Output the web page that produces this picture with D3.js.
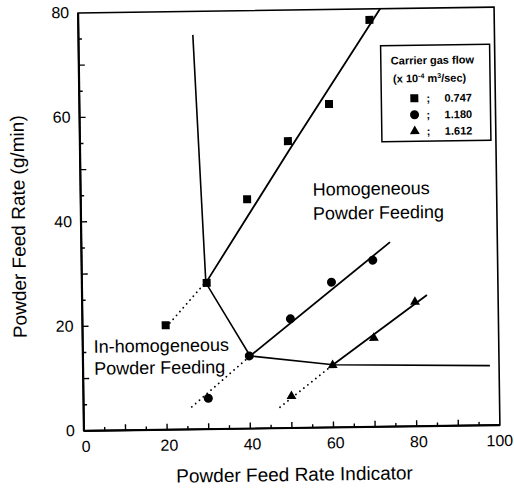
<!DOCTYPE html>
<html>
<head>
<meta charset="utf-8">
<script src="https://cdn.jsdelivr.net/npm/d3@7"></script>
<style>
  html, body { margin: 0; padding: 0; background: #fff; }
  svg { display: block; }
  text { font-family: "Liberation Sans", Arial, sans-serif; fill: #000; }
</style>
</head>
<body>
<svg id="chart" width="514" height="489"></svg>
<script>
// ---- data ----
const xTickLabels = [0, 20, 40, 60, 80, 100];
const yTickLabels = [0, 20, 40, 60, 80];
const xTicks = [5, 10, 15, 20, 25, 30, 35, 40, 45, 50, 55, 60, 65, 70, 75, 80, 85, 90, 95];
const yTicks = [5, 10, 15, 20, 25, 30, 35, 40, 45, 50, 55, 60, 65, 70, 75];

const squareX = [20, 30, 40, 50, 60, 70];
const squareY = [20, 28, 43.9, 54.9, 61.9, 77.9];
const circleX = [30, 40, 50, 60, 70];
const circleY = [5.9, 13.9, 20.9, 27.8, 31.9];
const triangleX = [50, 60, 70, 80];
const triangleY = [6.1, 11.9, 17.0, 23.8];

const squareFitX = [29.8, 50.3, 72.6];
const squareFitY = [28, 53.2, 80];
const squareDotX = [21, 29.6];
const squareDotY = [20.4, 28];
const circleFitX = [40.2, 74.2];
const circleFitY = [13.9, 35.3];
const circleDotX = [26, 40.2];
const circleDotY = [4.3, 13.9];
const triFitX = [60.1, 82.9];
const triFitY = [12, 25.1];
const triDotX = [47.2, 60.1];
const triDotY = [4.0, 12];
const boundaryX = [27.5, 29.8, 40.2, 60.1, 97.8];
const boundaryY = [75.5, 28, 13.9, 12, 11.4];

const legendTitle1 = "Carrier gas flow";
const legendUnit = ["(x 10", "-4", " m", "3", "/sec)"];
const legendLabels = ["0.747", "1.180", "1.612"];
const legendShapes = ["square", "circle", "triangle"];

const xTitle = "Powder Feed Rate Indicator";
const yTitle = "Powder Feed Rate (g/min)";
const regionHomo = ["Homogeneous", "Powder Feeding"];
const regionInhomo = ["In-homogeneous", "Powder Feeding"];

// ---- layout ----
const L = 81, R = 497, T = 10, B = 428;
const x = d3.scaleLinear().domain([0, 100]).range([L, R]);
const y = d3.scaleLinear().domain([0, 80]).range([B, T]);

const svg = d3.select("#chart");
const g = svg.append("g").attr("transform", "rotate(-0.8, 289, 219)");

// frame
g.append("rect").attr("x", L).attr("y", T).attr("width", R - L).attr("height", B - T)
  .attr("fill", "none").attr("stroke", "#000").attr("stroke-width", 1.6);
g.append("line").attr("x1", L).attr("x2", L).attr("y1", T).attr("y2", B)
  .attr("stroke", "#000").attr("stroke-width", 2.2);
g.append("line").attr("x1", L).attr("x2", R).attr("y1", B).attr("y2", B)
  .attr("stroke", "#000").attr("stroke-width", 2.2);

// ticks (inward)
g.selectAll(".xt").data(xTicks).join("line")
  .attr("x1", d => x(d)).attr("x2", d => x(d))
  .attr("y1", B).attr("y2", d => B - (d % 10 === 0 ? 6 : 3.5))
  .attr("stroke", "#000").attr("stroke-width", 1.4);
g.selectAll(".yt").data(yTicks).join("line")
  .attr("y1", d => y(d)).attr("y2", d => y(d))
  .attr("x1", L).attr("x2", d => L + (d % 10 === 0 ? 6 : 3.5))
  .attr("stroke", "#000").attr("stroke-width", 1.4);

// tick labels
g.selectAll(".xl").data(xTickLabels).join("text")
  .attr("x", d => d === 100 ? 510 : x(d) + 2).attr("y", B + 21)
  .attr("text-anchor", d => d === 100 ? "end" : "middle").attr("font-size", 16).text(d => d);
g.selectAll(".yl").data(yTickLabels).join("text")
  .attr("x", L - 9).attr("y", d => y(d) + 5)
  .attr("text-anchor", "end").attr("font-size", 16).text(d => d);

// axis titles
g.append("text").attr("x", 291).attr("y", 481).attr("text-anchor", "middle")
  .attr("font-size", 19).text(xTitle);
g.append("text").attr("transform", "translate(25,223) rotate(-90)")
  .attr("text-anchor", "middle").attr("font-size", 19).text(yTitle);

// lines
const line = d3.line().x(d => x(d[0])).y(d => y(d[1]));
const pts = (xs, ys) => xs.map((v, i) => [v, ys[i]]);

function solid(xs, ys, w) {
  g.append("path").attr("d", line(pts(xs, ys))).attr("fill", "none")
    .attr("stroke", "#000").attr("stroke-width", w);
}
function dotted(xs, ys) {
  g.append("path").attr("d", line(pts(xs, ys))).attr("fill", "none")
    .attr("stroke", "#000").attr("stroke-width", 1.8)
    .attr("stroke-linecap", "round").attr("stroke-dasharray", "0.1,5");
}
solid(boundaryX, boundaryY, 1.6);
solid(squareFitX, squareFitY, 1.8);
solid(circleFitX, circleFitY, 1.8);
solid(triFitX, triFitY, 1.8);
dotted(squareDotX, squareDotY);
dotted(circleDotX, circleDotY);
dotted(triDotX, triDotY);

// markers
const sq = d3.symbol().type(d3.symbolSquare).size(64);
const ci = d3.symbol().type(d3.symbolCircle).size(64);
const tr = d3.symbol().type(d3.symbolTriangle).size(42);
g.selectAll(".sq").data(pts(squareX, squareY)).join("path")
  .attr("d", sq).attr("transform", d => `translate(${x(d[0])},${y(d[1])})`).attr("fill", "#000");
g.selectAll(".ci").data(pts(circleX, circleY)).join("path")
  .attr("d", ci).attr("transform", d => `translate(${x(d[0])},${y(d[1])})`).attr("fill", "#000");
g.selectAll(".tr").data(pts(triangleX, triangleY)).join("path")
  .attr("d", tr).attr("transform", d => `translate(${x(d[0])},${y(d[1])})`).attr("fill", "#000");

// region labels
g.selectAll(".rh").data(regionHomo).join("text")
  .attr("x", 313).attr("y", (d, i) => 196 + i * 24).attr("font-size", 18).text(d => d);
g.selectAll(".ri").data(regionInhomo).join("text")
  .attr("x", 92).attr("y", (d, i) => 350 + i * 22).attr("font-size", 18).text(d => d);

// legend
const lg = g.append("g");
lg.append("rect").attr("x", 383).attr("y", 47).attr("width", 109).attr("height", 96)
  .attr("fill", "#fff").attr("stroke", "#000").attr("stroke-width", 1.5);
lg.append("text").attr("x", 393).attr("y", 66).attr("font-size", 11).attr("font-weight", "bold")
  .text(legendTitle1);
const ut = lg.append("text").attr("x", 395).attr("y", 84).attr("font-size", 11).attr("font-weight", "bold");
ut.append("tspan").text(legendUnit[0]);
ut.append("tspan").attr("font-size", 7).attr("dy", -4).text(legendUnit[1]);
ut.append("tspan").attr("dy", 4).text(legendUnit[2]);
ut.append("tspan").attr("font-size", 7).attr("dy", -4).text(legendUnit[3]);
ut.append("tspan").attr("dy", 4).text(legendUnit[4]);

const symFor = { square: sq, circle: ci, triangle: tr };
legendLabels.forEach((lab, i) => {
  const yy = 100 + i * 16.5;
  lg.append("path").attr("d", symFor[legendShapes[i]])
    .attr("transform", `translate(416,${yy})`).attr("fill", "#000");
  lg.append("text").attr("x", 428).attr("y", yy + 4).attr("font-size", 11)
    .attr("font-weight", "bold").text(";");
  lg.append("text").attr("x", 446).attr("y", yy + 4).attr("font-size", 11)
    .attr("font-weight", "bold").text(lab);
});
</script>
</body>
</html>
